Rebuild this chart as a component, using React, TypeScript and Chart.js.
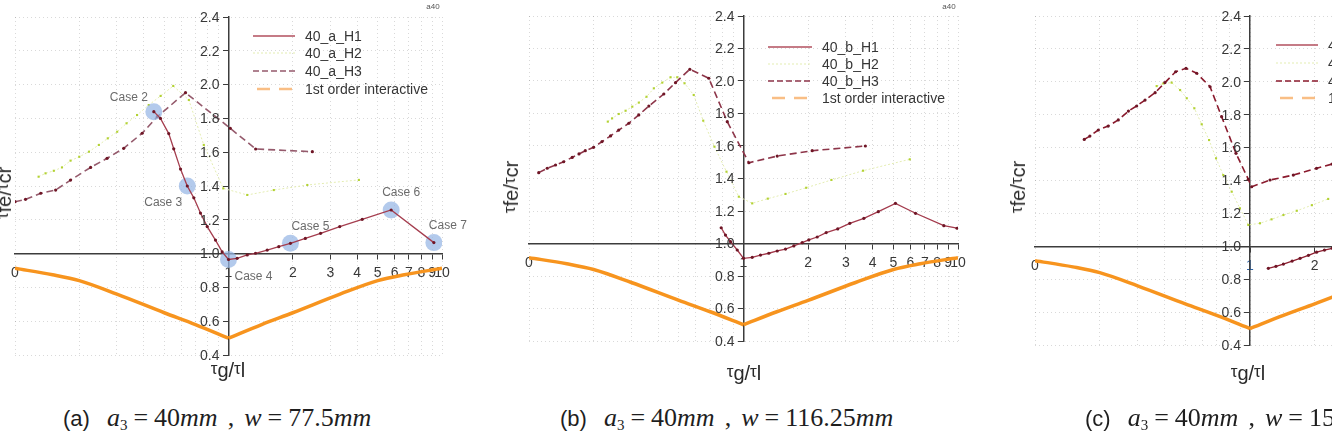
import React, { useEffect, useRef } from "react";
import { Chart, registerables } from "chart.js";

Chart.register(...registerables);

const SANS = "'Liberation Sans', Arial, Helvetica, sans-serif";
const SERIF = "'Liberation Serif', 'Times New Roman', serif";

// x axis: τg/τl on a log scale (0.1 … 10), y axis: τfe/τcr
const xGridValues = [0.1, 0.2, 0.3, 0.4, 0.5, 0.6, 0.7, 0.8, 0.9, 1, 2, 3, 4, 5, 6, 7, 8, 9, 10];
const xLabelValues = [0.1, 1, 2, 3, 4, 5, 6, 7, 8, 9, 10];
const xLabelTexts = ["0", "1", "2", "3", "4", "5", "6", "7", "8", "9", "10"];
const yTickValues = [0.4, 0.6, 0.8, 1.0, 1.2, 1.4, 1.6, 1.8, 2.0, 2.2, 2.4];

// first order interaction curve (shared by all panels)
const interactRatio = [0.1, 0.15, 0.2, 0.3, 0.5, 0.7, 1, 1.43, 2, 3.33, 5, 6.67, 10];
const interactValue = [0.913, 0.875, 0.84, 0.76, 0.65, 0.58, 0.5, 0.58, 0.65, 0.76, 0.84, 0.875, 0.913];

// (a) a3 = 40mm, w = 77.5mm
const aH1Ratio = [0.447, 0.48, 0.525, 0.554, 0.596, 0.641, 0.688, 0.739, 0.795, 0.869, 0.934, 1.0, 1.098, 1.224, 1.338, 1.518, 1.72, 1.95, 2.29, 2.7, 3.32, 4.23, 5.78, 9.16];
const aH1Value = [1.84, 1.8, 1.71, 1.62, 1.5, 1.4, 1.33, 1.24, 1.16, 1.08, 1.01, 0.965, 0.972, 0.992, 1.002, 1.021, 1.041, 1.061, 1.09, 1.12, 1.16, 1.203, 1.258, 1.065];
const aH2Ratio = [0.129, 0.139, 0.152, 0.166, 0.182, 0.2, 0.222, 0.247, 0.272, 0.301, 0.333, 0.373, 0.423, 0.481, 0.551, 0.652, 0.766, 0.945, 1.224, 1.63, 2.34, 4.08];
const aH2Value = [1.455, 1.475, 1.49, 1.51, 1.55, 1.573, 1.603, 1.643, 1.682, 1.721, 1.771, 1.82, 1.879, 1.933, 1.992, 1.909, 1.643, 1.386, 1.347, 1.376, 1.406, 1.436];
const aH3Ratio = [0.1, 0.112, 0.132, 0.155, 0.182, 0.226, 0.27, 0.323, 0.394, 0.464, 0.629, 1.02, 1.34, 2.47];
const aH3Value = [1.307, 1.321, 1.357, 1.376, 1.435, 1.51, 1.564, 1.623, 1.712, 1.81, 1.952, 1.741, 1.619, 1.603];
const aCaseRatio = [0.447, 0.641, 1.0, 1.95, 5.78, 9.16];
const aCaseValue = [1.84, 1.4, 0.965, 1.061, 1.258, 1.065];
const aCaseLabels = ["Case 2", "Case 3", "Case 4", "Case 5", "Case 6", "Case 7"];

// (b) a3 = 40mm, w = 116.25mm
const bH1Ratio = [0.787, 0.824, 0.87, 0.935, 1.0, 1.098, 1.2, 1.312, 1.436, 1.57, 1.717, 1.878, 2.016, 2.206, 2.43, 2.75, 3.13, 3.64, 4.25, 5.11, 6.34, 8.59, 9.9];
const bH1Value = [1.097, 1.052, 1.011, 0.96, 0.909, 0.915, 0.929, 0.94, 0.954, 0.966, 0.985, 1.005, 1.022, 1.04, 1.067, 1.09, 1.124, 1.155, 1.196, 1.247, 1.186, 1.11, 1.094];
const bH2Ratio = [0.233, 0.244, 0.262, 0.282, 0.303, 0.325, 0.353, 0.382, 0.418, 0.457, 0.491, 0.531, 0.586, 0.649, 0.732, 0.833, 0.951, 1.098, 1.298, 1.57, 1.96, 2.57, 3.61, 5.96];
const bH2Value = [1.75, 1.77, 1.797, 1.817, 1.842, 1.867, 1.903, 1.955, 1.99, 2.023, 2.023, 1.986, 1.914, 1.756, 1.596, 1.442, 1.288, 1.247, 1.276, 1.305, 1.343, 1.391, 1.448, 1.518];
const bH3Ratio = [0.111, 0.1216, 0.133, 0.145, 0.159, 0.171, 0.183, 0.2, 0.219, 0.24, 0.262, 0.292, 0.325, 0.362, 0.425, 0.482, 0.562, 0.689, 0.84, 1.059, 1.436, 2.09, 3.7];
const bH3Value = [1.436, 1.463, 1.483, 1.503, 1.53, 1.551, 1.571, 1.592, 1.627, 1.662, 1.698, 1.74, 1.791, 1.846, 1.92, 1.99, 2.072, 2.017, 1.75, 1.497, 1.538, 1.571, 1.6];

// (c) a3 = 40mm, w = 155mm
const cH1Ratio = [1.217, 1.32, 1.43, 1.57, 1.71, 1.87, 2.04, 2.22, 2.41];
const cH1Value = [0.866, 0.878, 0.892, 0.91, 0.927, 0.945, 0.964, 0.977, 0.988];
const cH2Ratio = [0.368, 0.395, 0.432, 0.473, 0.508, 0.551, 0.596, 0.645, 0.695, 0.751, 0.822, 0.898, 0.982, 1.113, 1.26, 1.43, 1.65, 1.94, 2.31];
const cH2Value = [1.974, 1.99, 1.995, 1.95, 1.9, 1.839, 1.742, 1.646, 1.535, 1.433, 1.332, 1.231, 1.13, 1.14, 1.164, 1.19, 1.216, 1.25, 1.288];
const cH3Ratio = [0.1695, 0.18, 0.197, 0.219, 0.244, 0.272, 0.297, 0.325, 0.362, 0.402, 0.451, 0.504, 0.565, 0.652, 0.738, 0.861, 0.982, 1.018, 1.239, 1.59, 2.04, 2.41];
const cH3Value = [1.65, 1.67, 1.707, 1.731, 1.768, 1.822, 1.853, 1.889, 1.934, 1.995, 2.061, 2.082, 2.052, 1.97, 1.788, 1.565, 1.407, 1.362, 1.403, 1.433, 1.474, 1.5];

const toPoints = (r: number[], v: number[]) => r.map((x, i) => ({ x, y: v[i] }));

// the interaction curve is drawn as two smooth branches meeting in a sharp V at ratio 1
const interactLeft = toPoints(interactRatio, interactValue).filter((pt) => pt.x <= 1);
const interactRight = toPoints(interactRatio, interactValue).filter((pt) => pt.x >= 1);

type Area = { left: number; top: number; right: number; bottom: number };

type PanelDef = {
  letter: string;
  width: string;
  area: Area;
  names: string[];
  h1: { x: number; y: number }[];
  h2: { x: number; y: number }[];
  h3: { x: number; y: number }[];
  cases?: { x: number; y: number }[];
  caseLabels?: string[];
  caseOffsets?: [number, number][];
  legend: { x0: number; x1: number; tx: number; rows: number[] };
  h1Color: string;
  h3Color: string;
  oneColor: string;
  yTitle: [number, number];
  xTitle: [number, number];
  caption: [number, number];
  tag?: [number, number];
};

const PAD = 30;
const AXIS = "#3c3c3c";
const TICK_TEXT = "#383838";
const GRID = "rgba(0,0,0,0.15)";
const ORANGE = "#F7941E";
const H2_LINE = "#E4EDB2";
const H2_MARK = "#B3D233";
const MARK_DARK = "#6f1626";

const panels: PanelDef[] = [
  {
    letter: "a",
    width: "77.5",
    area: { left: 15, top: 17, right: 442, bottom: 355 },
    names: ["40_a_H1", "40_a_H2", "40_a_H3", "1st order interactive"],
    h1: toPoints(aH1Ratio, aH1Value),
    h2: toPoints(aH2Ratio, aH2Value),
    h3: toPoints(aH3Ratio, aH3Value),
    cases: toPoints(aCaseRatio, aCaseValue),
    caseLabels: aCaseLabels,
    caseOffsets: [[-25, -14], [-24, 17], [25, 17], [20, -17], [10, -17], [14, -17]],
    legend: { x0: 253, x1: 295, tx: 305, rows: [36, 53, 71, 89] },
    h1Color: "#A53E4F",
    h3Color: "#955a6c",
    oneColor: TICK_TEXT,
    yTitle: [4, 193],
    xTitle: [228, 370],
    caption: [63, 404],
    tag: [433, 7],
  },
  {
    letter: "b",
    width: "116.25",
    area: { left: 529, top: 16, right: 958, bottom: 341 },
    names: ["40_b_H1", "40_b_H2", "40_b_H3", "1st order interactive"],
    h1: toPoints(bH1Ratio, bH1Value),
    h2: toPoints(bH2Ratio, bH2Value),
    h3: toPoints(bH3Ratio, bH3Value),
    legend: { x0: 768, x1: 812, tx: 822, rows: [47, 64, 81, 98] },
    h1Color: "#A33A4C",
    h3Color: "#8d3549",
    oneColor: TICK_TEXT,
    yTitle: [511, 187],
    xTitle: [744, 373],
    caption: [560, 404],
    tag: [949, 7],
  },
  {
    letter: "c",
    width: "155",
    area: { left: 1035, top: 16, right: 1465, bottom: 345 },
    names: ["40_c_H1", "40_c_H2", "40_c_H3", "1st order interactive"],
    h1: toPoints(cH1Ratio, cH1Value),
    h2: toPoints(cH2Ratio, cH2Value),
    h3: toPoints(cH3Ratio, cH3Value),
    legend: { x0: 1276, x1: 1318, tx: 1328, rows: [45, 63, 81, 98] },
    h1Color: "#8E1F30",
    h3Color: "#8a1a2d",
    oneColor: "#2a62a8",
    yTitle: [1018, 187],
    xTitle: [1248, 373],
    caption: [1085, 404],
  },
];

function PanelChart({ p }: { p: PanelDef }) {
  const ref = useRef<HTMLCanvasElement | null>(null);
  const cw = p.area.right - p.area.left + 2 * PAD;
  const ch = p.area.bottom - p.area.top + 2 * PAD;
  const ox = p.area.left - PAD;
  const oy = p.area.top - PAD;

  useEffect(() => {
    if (!ref.current) return;

    const overlay = {
      id: "overlay",
      afterDatasetsDraw(chart: any) {
        const ctx = chart.ctx as CanvasRenderingContext2D;
        if (p.cases && p.caseLabels && p.caseOffsets) {
          const meta = chart.getDatasetMeta(1);
          ctx.save();
          ctx.font = `12px ${SANS}`;
          ctx.fillStyle = "#6b6b6b";
          ctx.textAlign = "center";
          ctx.textBaseline = "middle";
          meta.data.forEach((pt: any, i: number) => {
            const [dx, dy] = p.caseOffsets![i];
            ctx.fillText(p.caseLabels![i], pt.x + dx, pt.y + dy);
          });
          ctx.restore();
        }
      },
      afterDraw(chart: any) {
        const ctx = chart.ctx as CanvasRenderingContext2D;
        // y tick labels, set a little away from the centred axis
        const xs = chart.scales.x;
        const ys = chart.scales.y;
        const axisX = xs.getPixelForValue(1);
        ctx.save();
        ctx.font = `14px ${SANS}`;
        ctx.fillStyle = TICK_TEXT;
        ctx.textAlign = "right";
        ctx.textBaseline = "middle";
        yTickValues.forEach((v) => {
          ctx.fillText(v.toFixed(1), axisX - 9, ys.getPixelForValue(v) + 1);
        });
        ctx.restore();

        // legend
        const styles = [
          { color: "#B24F5E", width: 1.5, dash: [] as number[] },
          { color: H2_LINE, width: 1.2, dash: [2, 2] },
          { color: p.h3Color, width: 1.5, dash: [6, 3] },
          { color: "#F9BE85", width: 2.5, dash: [13, 9] },
        ];
        const L = p.legend;
        p.names.forEach((name, i) => {
          const y = L.rows[i] - oy;
          const s = styles[i];
          ctx.save();
          ctx.strokeStyle = s.color;
          ctx.lineWidth = s.width;
          ctx.setLineDash(s.dash);
          ctx.lineDashOffset = i === 3 ? -4 : 0;
          ctx.beginPath();
          ctx.moveTo(L.x0 - ox, y);
          ctx.lineTo(L.x1 - ox, y);
          ctx.stroke();
          ctx.restore();
          ctx.save();
          ctx.font = `14px ${SANS}`;
          ctx.fillStyle = "#363636";
          ctx.textAlign = "left";
          ctx.textBaseline = "middle";
          ctx.fillText(name, L.tx - ox, y + 1);
          ctx.restore();
        });
      },
    };

    const datasets: any[] = [
      {
        label: p.names[0],
        data: p.h1,
        borderColor: p.h1Color,
        borderWidth: 1.3,
        pointRadius: 1.6,
        pointBackgroundColor: MARK_DARK,
        pointBorderWidth: 0,
        tension: 0,
        order: 1,
      },
    ];
    if (p.cases) {
      datasets.push({
        label: "cases",
        data: p.cases,
        showLine: false,
        pointRadius: 8.5,
        pointBackgroundColor: "rgba(150,182,228,0.72)",
        pointBorderWidth: 0,
        order: 2,
      });
    }
    const orangeStyle = {
      borderColor: ORANGE,
      borderWidth: 3.5,
      pointRadius: 0,
      cubicInterpolationMode: "monotone",
      order: 5,
    };
    datasets.push(
      {
        label: p.names[2],
        data: p.h3,
        borderColor: p.h3Color,
        borderWidth: 1.6,
        borderDash: [7, 4],
        pointRadius: 1.6,
        pointBackgroundColor: MARK_DARK,
        pointBorderWidth: 0,
        tension: 0,
        order: 3,
      },
      {
        label: p.names[1],
        data: p.h2,
        borderColor: H2_LINE,
        borderWidth: 1,
        borderDash: [2, 2],
        pointRadius: 1.5,
        pointStyle: "rect",
        pointBackgroundColor: H2_MARK,
        pointBorderWidth: 0,
        tension: 0,
        order: 4,
      },
      { label: p.names[3], data: interactLeft, ...orangeStyle },
      { label: p.names[3], data: interactRight, ...orangeStyle }
    );

    const chart = new Chart(ref.current, {
      type: "line",
      data: { datasets },
      options: {
        responsive: false,
        animation: false,
        devicePixelRatio: 1,
        layout: { padding: PAD },
        events: [],
        plugins: { legend: { display: false }, tooltip: { enabled: false } },
        scales: {
          x: {
            type: "logarithmic",
            min: 0.1,
            max: 10,
            position: { y: 1.0 } as any,
            afterBuildTicks: (scale: any) => {
              scale.ticks = xGridValues.map((value) => ({ value }));
            },
            ticks: {
              autoSkip: false,
              maxRotation: 0,
              padding: 6,
              font: { family: SANS, size: 14 },
              color: (ctx: any) => (ctx.tick && ctx.tick.value === 1 ? p.oneColor : TICK_TEXT),
              callback: (value: any) => {
                const i = xLabelValues.indexOf(Number(value));
                return i >= 0 ? xLabelTexts[i] : "";
              },
            },
            grid: {
              color: GRID,
              lineWidth: 1,
              tickLength: 5,
              tickColor: (ctx: any) => (ctx.tick && ctx.tick.value >= 1 ? AXIS : "rgba(0,0,0,0)"),
            },
            border: { color: AXIS, width: 1.5, dash: [1, 3] },
          },
          y: {
            type: "linear",
            min: 0.4,
            max: 2.4,
            position: { x: 1 } as any,
            afterBuildTicks: (scale: any) => {
              scale.ticks = yTickValues.map((value) => ({ value }));
            },
            ticks: { display: false },
            grid: { color: GRID, lineWidth: 1, tickLength: 5, tickColor: AXIS },
            border: { color: AXIS, width: 1.5, dash: [1, 3] },
          },
        },
      } as any,
      plugins: [overlay],
    });
    return () => chart.destroy();
  }, [p]);

  return (
    <canvas
      ref={ref}
      width={cw}
      height={ch}
      style={{ position: "absolute", left: ox, top: oy, width: cw, height: ch }}
    />
  );
}

const tau = (
  <span style={{ fontSize: "0.85em", position: "relative", top: "-0.2em" }}>τ</span>
);

function Labels({ p }: { p: PanelDef }) {
  return (
    <>
      <div
        style={{
          position: "absolute",
          left: p.yTitle[0],
          top: p.yTitle[1],
          transform: "translate(-50%, -50%) rotate(-90deg)",
          fontFamily: SANS,
          fontSize: 20,
          color: "#2a2a2a",
          whiteSpace: "nowrap",
          lineHeight: 1,
        }}
      >
        {tau}fe/{tau}cr
      </div>
      <div
        style={{
          position: "absolute",
          left: p.xTitle[0],
          top: p.xTitle[1],
          transform: "translate(-50%, -50%)",
          fontFamily: SANS,
          fontSize: 20,
          color: "#2a2a2a",
          whiteSpace: "nowrap",
          lineHeight: 1,
        }}
      >
        {tau}g/{tau}l
      </div>
      <div
        style={{
          position: "absolute",
          left: p.caption[0],
          top: p.caption[1],
          whiteSpace: "nowrap",
          color: "#1e1e1e",
          lineHeight: "28px",
        }}
      >
        <span style={{ fontFamily: SANS, fontSize: 22 }}>({p.letter})</span>
        <span style={{ fontFamily: SERIF, fontSize: 26, marginLeft: 17 }}>
          <i>a</i>
          <sub style={{ fontSize: 15, verticalAlign: "-4px" }}>3</sub>
          <span style={{ margin: "0 6px" }}>=</span>40<i>mm</i>
          <span style={{ margin: "0 10px" }}>,</span>
          <i>w</i>
          <span style={{ margin: "0 6px" }}>=</span>
          {p.width}
          <i>mm</i>
        </span>
      </div>
      {p.tag && (
        <div
          style={{
            position: "absolute",
            left: p.tag[0],
            top: p.tag[1],
            transform: "translate(-50%, -50%)",
            fontFamily: SANS,
            fontSize: 8,
            color: "#555",
            lineHeight: 1,
          }}
        >
          a40
        </div>
      )}
    </>
  );
}

export default function App() {
  return (
    <div
      style={{
        position: "absolute",
        left: 0,
        top: 0,
        width: 1332,
        height: 431,
        overflow: "hidden",
        background: "#fff",
      }}
    >
      {panels.map((p) => (
        <PanelChart key={p.letter} p={p} />
      ))}
      {panels.map((p) => (
        <Labels key={"l" + p.letter} p={p} />
      ))}
    </div>
  );
}
